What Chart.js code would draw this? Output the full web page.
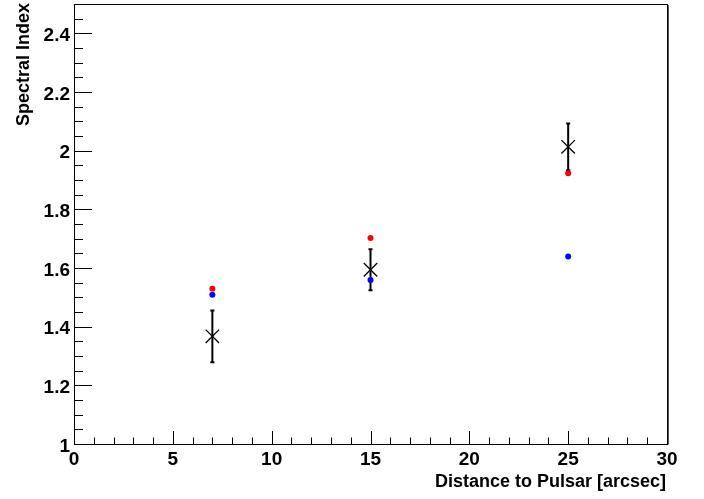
<!DOCTYPE html>
<html>
<head>
<meta charset="utf-8">
<script src="https://cdn.jsdelivr.net/npm/chart.js@4"></script>
<style>
  html, body { margin: 0; padding: 0; background: #fff; }
  canvas { display: block; }
</style>
</head>
<body>
<canvas id="c" width="704" height="499"></canvas>
<script>
// ---- data ----
const distances      = [7, 15, 25];
const indexMeasured  = [1.367, 1.594, 2.013];
const indexError     = [0.088, 0.070, 0.080];
const indexRed       = [1.529, 1.702, 1.923];
const indexBlue      = [1.509, 1.559, 1.639];

const xMajorTicks  = [0, 5, 10, 15, 20, 25, 30];
const xTickLabels  = ['0', '5', '10', '15', '20', '25', '30'];
const yMajorTicks  = [1, 1.2, 1.4, 1.6, 1.8, 2, 2.2, 2.4];
const yTickLabels  = ['1', '1.2', '1.4', '1.6', '1.8', '2', '2.2', '2.4'];
const xTitle = 'Distance to Pulsar [arcsec]';
const yTitle = 'Spectral Index';

const FONT = '"Liberation Sans", Arial, Helvetica, sans-serif';

function pts(xs, ys) { return xs.map((x, i) => ({ x: x, y: ys[i] })); }

const errorBars = {
  id: 'errorBars',
  beforeDatasetsDraw(chart) {
    const ctx = chart.ctx, xs = chart.scales.x, ys = chart.scales.y;
    ctx.save();
    ctx.strokeStyle = '#000';
    ctx.lineWidth = 2;
    distances.forEach((d, i) => {
      const px = xs.getPixelForValue(d);
      const top = ys.getPixelForValue(indexMeasured[i] + indexError[i]);
      const bot = ys.getPixelForValue(indexMeasured[i] - indexError[i]);
      ctx.beginPath();
      ctx.moveTo(px, top); ctx.lineTo(px, bot);
      ctx.stroke();
      ctx.beginPath();
      ctx.moveTo(px - 2, top); ctx.lineTo(px + 2, top);
      ctx.moveTo(px - 2, bot); ctx.lineTo(px + 2, bot);
      ctx.stroke();
    });
    ctx.restore();
  }
};

const rootAxes = {
  id: 'rootAxes',
  afterDraw(chart) {
    const ctx = chart.ctx, xs = chart.scales.x, ys = chart.scales.y;
    const a = chart.chartArea;
    ctx.save();
    // frame
    ctx.strokeStyle = '#000';
    ctx.lineWidth = 1;
    ctx.strokeRect(a.left + 0.5, a.top + 0.5, a.right - a.left, a.bottom - a.top);
    ctx.strokeStyle = '#555';
    ctx.beginPath();
    ctx.moveTo(a.right + 1.5, a.top + 1); ctx.lineTo(a.right + 1.5, a.bottom + 0.5);
    ctx.stroke();

    ctx.strokeStyle = '#000';
    ctx.lineWidth = 1;
    // x ticks (inward, from bottom axis)
    const xMaj = 13, xMin = 6.5;
    ctx.beginPath();
    for (let v = xs.min; v <= xs.max + 1e-9; v += 1) {
      const px = Math.round(xs.getPixelForValue(v)) + 0.5;
      const len = (Math.abs(v % 5) < 1e-9) ? xMaj : xMin;
      ctx.moveTo(px, a.bottom); ctx.lineTo(px, a.bottom - len);
    }
    // y ticks (inward, from left axis)
    const yMaj = 18, yMin = 9;
    for (let k = 0; k <= 30; k++) {
      const v = ys.min + k * 0.05;
      if (v > ys.max + 1e-9) break;
      const py = Math.round(ys.getPixelForValue(v)) + 0.5;
      const len = (k % 4 === 0) ? yMaj : yMin;
      ctx.moveTo(a.left, py); ctx.lineTo(a.left + len, py);
    }
    ctx.stroke();

    // tick labels
    ctx.fillStyle = '#000';
    ctx.font = 'bold 19px ' + FONT;
    ctx.textAlign = 'center';
    ctx.textBaseline = 'alphabetic';
    xMajorTicks.forEach((v, i) => {
      ctx.fillText(xTickLabels[i], xs.getPixelForValue(v), 465);
    });
    ctx.textAlign = 'right';
    yMajorTicks.forEach((v, i) => {
      ctx.fillText(yTickLabels[i], a.left - 4, ys.getPixelForValue(v) + 7.5);
    });

    // axis titles
    ctx.font = 'bold 18px ' + FONT;
    ctx.textAlign = 'right';
    ctx.fillText(xTitle, a.right - 1, 487);
    ctx.save();
    ctx.translate(29, 3);
    ctx.rotate(-Math.PI / 2);
    ctx.textAlign = 'right';
    ctx.fillText(yTitle, 0, 0);
    ctx.restore();
    ctx.restore();
  }
};

new Chart(document.getElementById('c'), {
  type: 'scatter',
  data: {
    datasets: [
      {
        label: 'red',
        data: pts(distances, indexRed),
        pointStyle: 'circle',
        pointRadius: 3,
        backgroundColor: '#ff0000',
        borderColor: '#ff0000',
        borderWidth: 0
      },
      {
        label: 'blue',
        data: pts(distances, indexBlue),
        pointStyle: 'circle',
        pointRadius: 3,
        backgroundColor: '#0000ff',
        borderColor: '#0000ff',
        borderWidth: 0
      },
      {
        label: 'measured',
        data: pts(distances, indexMeasured),
        pointStyle: 'crossRot',
        pointRadius: 9.5,
        backgroundColor: '#000',
        borderColor: '#000',
        borderWidth: 1.3
      }
    ]
  },
  options: {
    responsive: false,
    devicePixelRatio: 1,
    animation: false,
    events: [],
    layout: { autoPadding: false, padding: { left: 74, right: 37, top: 4, bottom: 55 } },
    plugins: { legend: { display: false }, tooltip: { enabled: false } },
    scales: {
      x: { type: 'linear', min: 0, max: 30, display: false },
      y: { type: 'linear', min: 1, max: 2.5, display: false }
    }
  },
  plugins: [errorBars, rootAxes]
});
</script>
</body>
</html>
